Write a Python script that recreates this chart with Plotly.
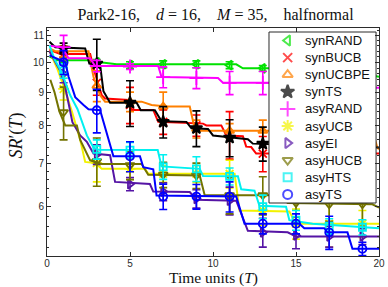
import math
import plotly.graph_objects as go

# ---------------- data ----------------
series_names = ["synRAND", "synBUCB", "synUCBPE", "synTS", "asyRAND",
                "asyUCB", "asyEI", "asyHUCB", "asyHTS", "asyTS"]

mark_t = [1, 3, 5, 7, 9, 11, 13, 15, 17, 19]

syn_rand_t = [0.15, 0.6, 2.5, 3.2, 4.2, 11.4, 11.8, 14.5, 15.0, 17.0, 19.5, 20.0]
syn_rand_v = [10.2, 10.07, 10.07, 10.0, 9.93, 9.93, 9.79, 9.79, 9.7, 9.65, 9.55, 9.5]
syn_rand_mv = [10.1, 10.0, 9.9, 9.93, 9.93, 9.9, 9.79, 9.7, 9.65, 9.6]
syn_rand_err = [0.1, 0.1, 0.12, 0.12, 0.12, 0.12, 0.1, 0.1, 0.1, 0.1]

syn_bucb_t = [0.15, 0.8, 2.6, 2.9, 3.3, 3.5, 4.9, 5.1, 6.4, 6.7, 9.4, 9.6, 10.5, 10.8, 11.8, 12.0, 12.3, 12.6, 20.0]
syn_bucb_v = [10.45, 10.3, 10.3, 9.6, 8.9, 8.8, 8.75, 8.45, 8.45, 8.1, 8.05, 8.0, 8.0, 7.72, 7.7, 7.42, 7.41, 7.24, 7.24]
syn_bucb_mv = [10.3, 9.3, 8.6, 8.1, 8.0, 7.75, 7.24, 7.24, 7.24, 7.24]
syn_bucb_err = [0.2, 0.4, 0.55, 0.35, 0.3, 0.65, 0.45, 0.3, 0.3, 0.3]

syn_ucbpe_t = [0.15, 0.5, 2.5, 2.8, 3.2, 3.5, 5.7, 6.3, 7.2, 8.6, 8.9, 9.3, 19.6, 19.9, 20.0]
syn_ucbpe_v = [10.5, 10.4, 10.4, 9.5, 8.9, 8.7, 8.7, 8.6, 8.55, 8.55, 7.9, 7.85, 7.85, 7.4, 7.35]
syn_ucbpe_mv = [10.4, 9.2, 8.7, 8.55, 7.9, 7.85, 7.85, 7.85, 7.85, 7.85]
syn_ucbpe_err = [0.2, 0.5, 0.3, 0.45, 0.25, 0.2, 0.3, 0.25, 0.25, 0.25]

syn_ts_t = [0.15, 0.5, 2.3, 2.55, 3.2, 3.4, 3.8, 5.4, 5.65, 6.5, 6.9, 8.4, 8.7, 9.7, 10.0, 12.1, 12.4, 20.0]
syn_ts_v = [10.75, 10.55, 10.5, 9.95, 9.9, 9.03, 8.67, 8.67, 8.44, 8.44, 8.12, 8.1, 7.92, 7.9, 7.72, 7.62, 7.5, 7.4]
syn_ts_mv = [10.5, 9.95, 8.67, 8.1, 7.92, 7.66, 7.5, 7.45, 7.42, 7.4]
syn_ts_err = [0.2, 0.9, 0.7, 0.45, 0.5, 0.5, 0.45, 0.4, 0.4, 0.4]

asy_rand_t = [0.15, 0.9, 1.3, 2.6, 2.9, 6.7, 6.9, 10.3, 10.6, 19.5, 19.8, 20.0]
asy_rand_v = [10.6, 10.55, 10.14, 10.14, 9.87, 9.87, 9.49, 9.46, 9.3, 9.3, 9.14, 9.14]
asy_rand_mv = [10.55, 9.87, 9.85, 9.49, 9.46, 9.3, 9.3, 9.3, 9.3, 9.25]
asy_rand_err = [0.45, 0.2, 0.1, 0.35, 0.35, 0.38, 0.38, 0.35, 0.35, 0.35]

asy_ucb_t = [0.15, 0.6, 1.0, 1.5, 2.0, 2.3, 2.9, 3.3, 5.9, 6.1, 11.3, 11.6, 14.6, 15.0, 20.0]
asy_ucb_v = [10.4, 9.8, 9.2, 8.4, 7.6, 7.03, 7.0, 6.86, 6.86, 6.74, 6.74, 5.92, 5.9, 5.65, 5.65]
asy_ucb_mv = [9.1, 7.0, 6.86, 6.74, 6.74, 6.74, 5.92, 5.65, 5.65, 5.65]
asy_ucb_err = [0.35, 0.45, 0.25, 0.2, 0.2, 0.33, 0.3, 0.3, 0.45, 0.27]

asy_ei_t = [0.15, 0.65, 0.94, 1.24, 1.53, 2.0, 2.4, 2.8, 3.8, 4.1, 6.2, 6.4, 8.6, 9.0, 11.4, 12.1, 14.5, 15.0, 20.0]
asy_ei_v = [10.4, 9.84, 9.55, 8.8, 8.09, 7.72, 7.55, 7.24, 7.2, 6.55, 6.5, 6.33, 6.32, 6.15, 6.13, 5.51, 5.48, 5.4, 5.4]
asy_ei_mv = [9.6, 7.22, 6.5, 6.33, 6.17, 6.13, 5.48, 5.42, 5.4, 5.4]
asy_ei_err = [0.3, 0.25, 0.15, 0.2, 0.2, 0.3, 0.28, 0.25, 0.2, 0.15]

asy_hucb_t = [0.2, 0.45, 0.75, 1.1, 1.8, 2.0, 2.6, 3.3, 5.7, 6.1, 9.2, 9.5, 14.0, 14.5, 19.6, 20.0]
asy_hucb_v = [9.4, 9.0, 8.4, 8.0, 8.0, 7.6, 7.07, 6.98, 6.98, 6.72, 6.7, 6.25, 6.25, 6.08, 6.05, 5.98]
asy_hucb_mv = [8.38, 7.05, 6.95, 6.72, 6.7, 6.25, 6.25, 6.08, 6.05, 6.05]
asy_hucb_err = [0.78, 0.6, 0.35, 0.3, 0.3, 0.4, 0.42, 0.3, 0.35, 0.45]

asy_hts_t = [0.15, 0.46, 0.86, 1.4, 1.84, 2.4, 2.8, 3.1, 6.67, 6.9, 9.2, 9.4, 11.5, 11.7, 12.5, 12.8, 14.4, 14.6, 16.0, 20.0]
asy_hts_v = [10.62, 10.1, 9.68, 8.9, 8.47, 7.72, 7.4, 7.34, 7.33, 6.92, 6.86, 6.69, 6.68, 6.38, 6.35, 6.02, 6.0, 5.72, 5.65, 5.56]
asy_hts_mv = [9.7, 7.35, 7.33, 6.91, 6.86, 6.68, 6.0, 5.72, 5.6, 5.58]
asy_hts_err = [0.25, 0.25, 0.2, 0.3, 0.3, 0.2, 0.25, 0.2, 0.15, 0.15]

asy_ts_t = [0.15, 1.1, 1.3, 1.7, 2.2, 2.5, 3.2, 3.7, 4.0, 5.6, 5.8, 6.4, 6.6, 11.4, 11.9, 15.2, 15.5, 16.7, 16.9, 18.1, 18.4, 20.0]
asy_ts_v = [10.25, 10.0, 9.5, 8.84, 8.6, 8.47, 8.44, 7.6, 7.17, 7.17, 6.9, 6.85, 6.24, 6.22, 5.65, 5.65, 5.56, 5.56, 5.48, 5.48, 5.17, 5.17]
asy_ts_mv = [10.0, 8.44, 7.17, 6.22, 6.22, 6.22, 5.65, 5.65, 5.48, 5.17]
asy_ts_err = [0.42, 0.65, 0.38, 0.28, 0.27, 0.33, 0.2, 0.2, 0.32, 0.12]

x_ticks = [0, 5, 10, 15, 20]
y_ticks = [6, 7, 8, 9, 10, 11]
y_range = [5.04, 11.29]

# ---------------- styles ----------------
colors = ["rgb(0,225,0)", "#ff0000", "#ff8000", "#000000", "#ff00ff",
          "#f2f200", "rgb(85,20,165)", "rgb(115,115,0)", "#00f0f0", "#0000ff"]
symbols = ["triangle-left-open", "x-thin-open", "triangle-up-open", "star",
           "cross-thin-open", "asterisk-open", "triangle-right-open",
           "triangle-down-open", "square-open", "circle-open"]
msizes = [8, 8, 8, 9, 10, 9, 8, 8, 7, 8]

lines_t = [syn_rand_t, syn_bucb_t, syn_ucbpe_t, syn_ts_t, asy_rand_t,
           asy_ucb_t, asy_ei_t, asy_hucb_t, asy_hts_t, asy_ts_t]
lines_v = [syn_rand_v, syn_bucb_v, syn_ucbpe_v, syn_ts_v, asy_rand_v,
           asy_ucb_v, asy_ei_v, asy_hucb_v, asy_hts_v, asy_ts_v]
marks_v = [syn_rand_mv, syn_bucb_mv, syn_ucbpe_mv, syn_ts_mv, asy_rand_mv,
           asy_ucb_mv, asy_ei_mv, asy_hucb_mv, asy_hts_mv, asy_ts_mv]
marks_e = [syn_rand_err, syn_bucb_err, syn_ucbpe_err, syn_ts_err, asy_rand_err,
           asy_ucb_err, asy_ei_err, asy_hucb_err, asy_hts_err, asy_ts_err]

# ---------------- layout geometry (pixels) ----------------
W, H = 388, 287
ML, MR, MT, MB = 47, 3, 28, 31
PW, PH = W - ML - MR, H - MT - MB


def fx(px):  # pixel x -> plot-area fraction
    return (px - ML) / PW


def fy(py):  # pixel y -> plot-area fraction
    return (H - MB - py) / PH


# legend box and rows (pixel layout)
LG_X0, LG_X1, LG_Y0, LG_Y1 = 273, 382, 32, 203
LG_ROW0, LG_ROWSTEP = 40.5, 17.1
LG_MARK_X, LG_TEXT_X = 292, 308

fig = go.Figure()
for i, name in enumerate(series_names):
    fig.add_trace(go.Scatter(
        x=lines_t[i], y=lines_v[i], mode="lines",
        line=dict(color=colors[i], width=2), showlegend=False, hoverinfo="skip"))
    fig.add_trace(go.Scatter(
        x=mark_t, y=marks_v[i], mode="markers", name=name,
        marker=dict(symbol=symbols[i], size=msizes[i], color=colors[i],
                    line=dict(color=colors[i], width=1.8)),
        error_y=dict(type="data", array=marks_e[i], color=colors[i],
                     thickness=1.6, width=4),
        showlegend=False))

# legend (drawn on an overlay axis so it covers the curves)
fig.add_trace(go.Scatter(
    x=[fx(LG_X0), fx(LG_X1), fx(LG_X1), fx(LG_X0), fx(LG_X0)],
    y=[fy(LG_Y1), fy(LG_Y1), fy(LG_Y0), fy(LG_Y0), fy(LG_Y1)],
    xaxis="x2", yaxis="y2", mode="lines", fill="toself", fillcolor="white",
    line=dict(color="#2b2b2b", width=1), showlegend=False, hoverinfo="skip"))
rows_y = [fy(LG_ROW0 + k * LG_ROWSTEP) for k in range(len(series_names))]
fig.add_trace(go.Scatter(
    x=[fx(LG_MARK_X)] * len(series_names), y=rows_y,
    xaxis="x2", yaxis="y2", mode="markers",
    marker=dict(symbol=symbols, size=[s + 1 for s in msizes], color=colors,
                line=dict(color=colors, width=2)),
    showlegend=False, hoverinfo="skip"))

axis_col = "#2b2b2b"
tick_font = dict(family="Liberation Sans, Arial, sans-serif", size=10, color=axis_col)
serif = "Liberation Serif, Times New Roman, serif"

minor_y = [round(5.2 + 0.2 * k, 1) for k in range(31)]
minor_y = [v for v in minor_y if v not in y_ticks and y_range[0] < v < y_range[1]]

gap = "&nbsp;&nbsp;&nbsp; "
title_text = ("Park2-16," + gap + "<i>d</i> = 16," + gap + "<i>M</i> = 35," + gap + "halfnormal")

annotations = [
    dict(text="Time units (<i>T</i>)", xref="paper", yref="paper", x=0.5, y=fy(278),
         xanchor="center", yanchor="middle", showarrow=False,
         font=dict(family=serif, size=15.5, color="#111")),
    dict(text="<i>SR</i>′(<i>T</i>)", xref="paper", yref="paper", x=fx(15), y=fy(136),
         xanchor="center", yanchor="middle", showarrow=False, textangle=-90,
         font=dict(family=serif, size=18, color="#111")),
]
for k, name in enumerate(series_names):
    annotations.append(dict(
        text=name, xref="paper", yref="paper", x=fx(LG_TEXT_X), y=rows_y[k],
        xanchor="left", yanchor="middle", showarrow=False,
        font=dict(family="Liberation Sans, Arial, sans-serif", size=13, color="#111")))

fig.update_layout(
    width=W, height=H,
    margin=dict(l=ML, r=MR, t=MT, b=MB, pad=0),
    paper_bgcolor="white", plot_bgcolor="white",
    showlegend=False,
    title=dict(
        text=title_text,
        font=dict(family=serif, size=16, color="#111"),
        x=215.5 / W, xanchor="center", y=1 - 14 / H, yanchor="middle"),
    xaxis=dict(range=[0, 20], tickvals=x_ticks, ticks="inside", ticklen=4,
               tickcolor=axis_col, showline=True, linecolor=axis_col, linewidth=1,
               mirror="ticks", showgrid=False, zeroline=False, tickfont=tick_font,
               ticklabeloverflow="allow", ticklabelstandoff=-2),
    yaxis=dict(type="log", range=[math.log10(y_range[0]), math.log10(y_range[1])],
               tickvals=y_ticks, ticktext=[str(v) for v in y_ticks],
               ticks="inside", ticklen=4, tickcolor=axis_col,
               showline=True, linecolor=axis_col, linewidth=1, mirror="ticks",
               showgrid=False, zeroline=False, tickfont=tick_font,
               minor=dict(tickvals=minor_y, ticks="inside", ticklen=2, tickcolor=axis_col)),
    xaxis2=dict(overlaying="x", range=[0, 1], visible=False, fixedrange=True),
    yaxis2=dict(overlaying="y", range=[0, 1], visible=False, fixedrange=True),
    annotations=annotations,
)

fig.write_html("out.html", config={"displayModeBar": False, "staticPlot": True},
               post_script="document.body.style.margin='0';document.body.style.padding='0';")
